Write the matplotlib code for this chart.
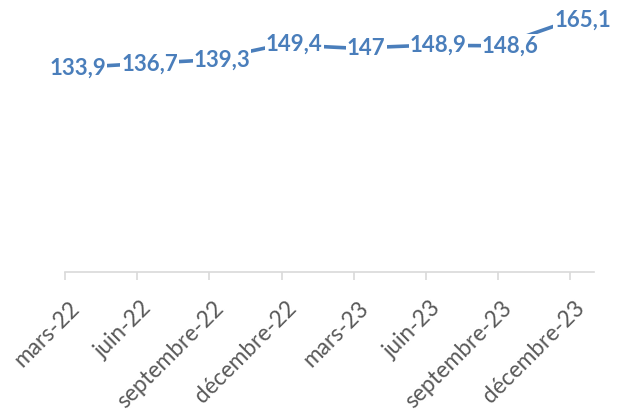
import matplotlib
matplotlib.use("Agg")
import matplotlib.pyplot as plt
from matplotlib.transforms import ScaledTranslation

# data
periods = ["mars-22", "juin-22", "septembre-22", "décembre-22",
           "mars-23", "juin-23", "septembre-23", "décembre-23"]
values = [133.9, 136.7, 139.3, 149.4, 147.0, 148.9, 148.6, 165.1]
value_labels = ["133,9", "136,7", "139,3", "149,4", "147", "148,9", "148,6", "165,1"]

line_blue = "#4A7EBB"
axis_grey = "#D9D9D9"
text_grey = "#595959"

W, H = 624, 417
fig = plt.figure(figsize=(W / 100, H / 100), dpi=100)

# plot area in pixels (left, axis y, right)
left_px, axis_px, right_px = 65.3, 271.7, 594.0
ax = fig.add_axes([left_px / W, 1 - axis_px / H, (right_px - left_px) / W, axis_px / H])

x = list(range(len(values)))
ax.plot(x, values, color=line_blue, lw=2.6, solid_capstyle="round", zorder=2)

# data labels, shifted a bit right, white box hides the line behind
for xi, v, lab in zip(x, values, value_labels):
    ax.annotate(lab, (xi, v), xytext=(9, 0), textcoords="offset points",
                ha="center", va="center", fontsize=16, fontweight="bold",
                family="Lato", color=line_blue, zorder=3,
                bbox=dict(boxstyle="square,pad=0.05", fc="white", ec="none"))

ax.set_xlim(0, len(values) - 1 + 1 / 3)
ax.set_ylim(0, 178.7)

for side in ["top", "right", "left"]:
    ax.spines[side].set_visible(False)
ax.spines["bottom"].set_color(axis_grey)
ax.spines["bottom"].set_linewidth(1.2)
ax.set_yticks([])

ax.set_xticks(x)
ax.set_xticklabels(periods)
ax.tick_params(axis="x", length=6, width=1.2, color=axis_grey, pad=0,
               labelsize=16.3, labelcolor=text_grey)

shift = ScaledTranslation(8 / 72, -18 / 72, fig.dpi_scale_trans)
for lbl in ax.get_xticklabels():
    lbl.set_family("Lato")
    lbl.set_rotation(45)
    lbl.set_ha("right")
    lbl.set_va("center")
    lbl.set_rotation_mode("anchor")
    lbl.set_transform(lbl.get_transform() + shift)

fig.savefig("out.png", dpi=100)
